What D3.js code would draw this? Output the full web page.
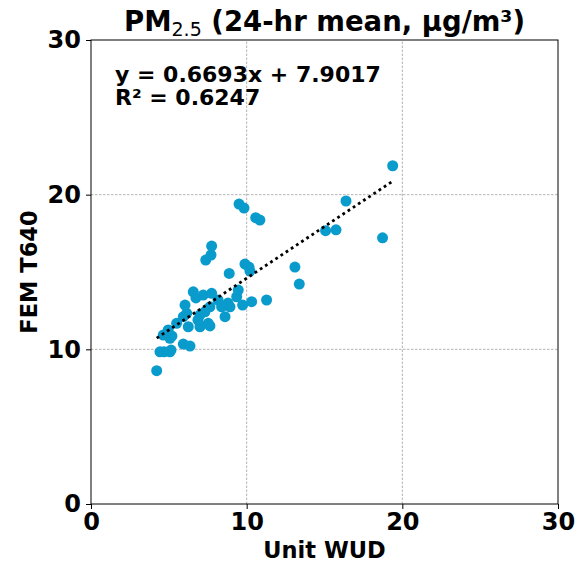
<!DOCTYPE html>
<html>
<head>
<meta charset="utf-8">
<script src="https://cdn.jsdelivr.net/npm/d3@7"></script>
<style>
  body { margin: 0; background: #fff; }
  text { font-family: "DejaVu Sans", sans-serif; }
</style>
</head>
<body>
<div id="chart"></div>
<script>
// data
var unitWUD = [4.22, 4.43, 4.69, 5.07, 5.14, 5.93, 6.36, 4.64, 5.07, 5.2, 4.96, 5.5, 6.25, 7.0,
  7.64, 6.87, 5.93, 6.15, 7.0, 7.32, 7.53, 8.61, 6.04, 6.57, 7.21, 7.75, 7.64, 8.39, 8.93,
  8.8, 9.36, 9.46, 9.74, 10.32, 11.28, 8.88, 7.37, 7.71, 7.75, 9.89, 10.15, 10.21, 9.51,
  9.83, 10.58, 10.85, 13.1, 13.38, 15.07, 15.74, 16.38, 18.73, 19.38, 8.16, 6.74];
var femT640 = [8.62, 9.84, 9.84, 9.84, 9.95, 10.34, 10.21, 10.92, 10.71, 10.86, 11.25, 11.68, 11.46, 11.46,
  11.51, 11.89, 12.11, 12.33, 12.22, 12.43, 11.68, 12.11, 12.86, 13.72, 13.51, 13.62, 12.75, 12.75, 12.75,
  12.99, 13.4, 13.83, 12.86, 13.08, 13.19, 14.91, 15.77, 16.1, 16.68, 15.51, 15.32, 15.06, 19.39,
  19.13, 18.51, 18.36, 15.32, 14.22, 17.67, 17.73, 19.59, 17.21, 21.87, 13.19, 13.32];
var slope = 0.6693, intercept = 7.9017, rSquared = 0.6247;
var tickValues = [0, 10, 20, 30];

var width = 588, height = 564;
var margin = { top: 40, right: 30, bottom: 60, left: 91 };

var svg = d3.select("#chart").append("svg")
    .attr("width", width)
    .attr("height", height);

var x = d3.scaleLinear().domain([0, 30]).range([margin.left, width - margin.right]);
var y = d3.scaleLinear().domain([0, 30]).range([height - margin.bottom, margin.top]);

// grid
svg.append("g").selectAll("line.gx")
    .data(tickValues.slice(1, 3))
    .enter().append("line")
    .attr("x1", function(d) { return x(d); })
    .attr("x2", function(d) { return x(d); })
    .attr("y1", y(0)).attr("y2", y(30))
    .attr("stroke", "#a0a0a0").attr("stroke-width", 0.8).attr("stroke-dasharray", "2.5,1.5");
svg.append("g").selectAll("line.gy")
    .data(tickValues.slice(1, 3))
    .enter().append("line")
    .attr("y1", function(d) { return y(d); })
    .attr("y2", function(d) { return y(d); })
    .attr("x1", x(0)).attr("x2", x(30))
    .attr("stroke", "#a0a0a0").attr("stroke-width", 0.8).attr("stroke-dasharray", "2.5,1.5");

// points
var pts = unitWUD.map(function(v, i) { return { x: v, y: femT640[i] }; });
svg.append("g").selectAll("circle")
    .data(pts)
    .enter().append("circle")
    .attr("cx", function(d) { return x(d.x); })
    .attr("cy", function(d) { return y(d.y); })
    .attr("r", 5.5)
    .attr("fill", "#0a9bcd");

// regression line, from min to max of x
var xMin = d3.min(unitWUD), xMax = d3.max(unitWUD);
svg.append("line")
    .attr("x1", x(xMin)).attr("y1", y(slope * xMin + intercept))
    .attr("x2", x(xMax)).attr("y2", y(slope * xMax + intercept))
    .attr("stroke", "#000").attr("stroke-width", 2.8)
    .attr("stroke-dasharray", "2.8,3.4");

// axes
var xAxis = svg.append("g")
    .attr("transform", "translate(0," + y(0) + ")")
    .call(d3.axisBottom(x).tickValues(tickValues).tickSize(5).tickPadding(4));
var yAxis = svg.append("g")
    .attr("transform", "translate(" + x(0) + ",0)")
    .call(d3.axisLeft(y).tickValues(tickValues).tickSize(5).tickPadding(5));
[xAxis, yAxis].forEach(function(a) {
    a.select(".domain").remove();
    a.selectAll("text")
        .style("font-family", "DejaVu Sans")
        .style("font-weight", "bold")
        .style("font-size", "24px")
        .attr("fill", "#000");
});

// frame
svg.append("rect")
    .attr("x", x(0)).attr("y", y(30))
    .attr("width", x(30) - x(0)).attr("height", y(0) - y(30))
    .attr("fill", "none").attr("stroke", "#000").attr("stroke-width", 1);

// title
var title = svg.append("text")
    .attr("x", (x(0) + x(30)) / 2)
    .attr("y", 31)
    .attr("text-anchor", "middle")
    .style("font-size", "27.5px")
    .style("font-weight", "bold");
title.append("tspan").text("PM");
title.append("tspan").attr("dy", 5).style("font-weight", "normal").style("font-size", "19px").text("2.5");
title.append("tspan").attr("dy", -5).text(" (24-hr mean, μg/m³)");

// axis labels
svg.append("text")
    .attr("x", (x(0) + x(30)) / 2)
    .attr("y", 558)
    .attr("text-anchor", "middle")
    .style("font-size", "22.5px")
    .style("font-weight", "bold")
    .text("Unit WUD");
svg.append("text")
    .attr("transform", "translate(37," + (y(0) + y(30)) / 2 + ") rotate(-90)")
    .attr("text-anchor", "middle")
    .style("font-size", "22.5px")
    .style("font-weight", "bold")
    .text("FEM T640");

// equation
svg.append("text")
    .attr("x", 115).attr("y", 82)
    .style("font-size", "22px").style("font-weight", "bold")
    .text("y = " + slope + "x + " + intercept);
svg.append("text")
    .attr("x", 115).attr("y", 105)
    .style("font-size", "22px").style("font-weight", "bold")
    .text("R² = " + rSquared);
</script>
</body>
</html>
